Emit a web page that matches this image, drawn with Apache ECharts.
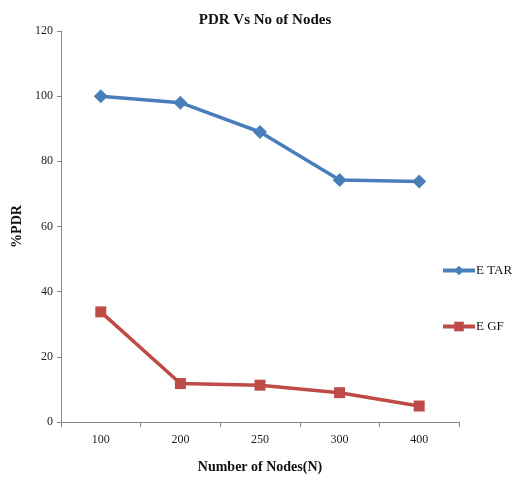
<!DOCTYPE html>
<html>
<head>
<meta charset="utf-8">
<script src="https://cdn.jsdelivr.net/npm/echarts@6/dist/echarts.min.js"></script>
<style>
  html, body { margin: 0; padding: 0; background: #fff; }
  #chart { width: 518px; height: 480px; }
</style>
</head>
<body>
<div id="chart"></div>
<script>
// Node counts on the x axis
const nodeCounts = ['100', '200', '250', '300', '400'];
// Packet delivery ratio (%) per protocol
const etarPdr = [100, 98, 89, 74.3, 73.8];
const egfPdr = [33.8, 11.8, 11.3, 9, 4.9];
const yTicks = { min: 0, max: 120, interval: 20 };

const serif = '"Liberation Serif", "DejaVu Serif", serif';
const chart = echarts.init(document.getElementById('chart'));

chart.setOption({
  backgroundColor: '#ffffff',
  animation: false,
  title: {
    text: 'PDR Vs No of Nodes',
    left: 260,
    textAlign: 'center',
    top: 8,
    textStyle: { fontFamily: serif, fontWeight: 'bold', fontSize: 15, color: '#111' }
  },
  legend: {
    orient: 'vertical',
    left: 436,
    top: 259,
    itemGap: 43,
    itemWidth: 32,
    itemHeight: 12,
    lineStyle: { width: 4 },
    textStyle: { fontFamily: serif, fontSize: 13, color: '#111', padding: [0, 0, 0, -4] },
    data: ['E TAR', 'E GF']
  },
  grid: { left: 61, right: 59, top: 31, bottom: 58 },
  xAxis: {
    type: 'category',
    data: nodeCounts,
    boundaryGap: true,
    name: 'Number of Nodes(N)',
    nameLocation: 'middle',
    nameGap: 38,
    nameTextStyle: { fontFamily: serif, fontWeight: 'bold', fontSize: 14, color: '#111' },
    axisLine: { lineStyle: { color: '#888', width: 1 } },
    axisTick: { show: true, length: 5, lineStyle: { color: '#888' } },
    axisLabel: { fontFamily: serif, fontSize: 12, color: '#222', margin: 12 }
  },
  yAxis: {
    type: 'value',
    min: yTicks.min,
    max: yTicks.max,
    interval: yTicks.interval,
    name: '%PDR',
    nameLocation: 'middle',
    nameGap: 33,
    nameRotate: 90,
    nameTextStyle: { fontFamily: serif, fontWeight: 'bold', fontSize: 14, color: '#111' },
    axisLine: { show: true, lineStyle: { color: '#888', width: 1 } },
    axisTick: { show: true, length: 4, lineStyle: { color: '#888' } },
    axisLabel: { fontFamily: serif, fontSize: 12, color: '#222', margin: 8 },
    splitLine: { show: false }
  },
  series: [
    {
      name: 'E TAR',
      type: 'line',
      data: etarPdr,
      symbol: 'diamond',
      symbolSize: 14,
      lineStyle: { color: '#4a7ebb', width: 3.5 },
      itemStyle: { color: '#4a7ebb' }
    },
    {
      name: 'E GF',
      type: 'line',
      data: egfPdr,
      symbol: 'rect',
      symbolSize: 11,
      lineStyle: { color: '#be4b48', width: 3.5 },
      itemStyle: { color: '#be4b48' }
    }
  ]
});
</script>
</body>
</html>
